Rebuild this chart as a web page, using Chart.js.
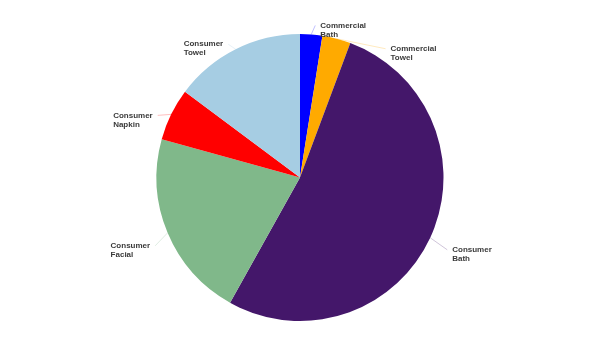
<!DOCTYPE html>
<html>
<head>
<meta charset="utf-8">
<script src="https://cdn.jsdelivr.net/npm/chart.js@4.4.0/dist/chart.umd.min.js"></script>
<style>
  html, body { margin: 0; padding: 0; background: #fff; }
  #wrap { width: 600px; height: 363px; }
</style>
</head>
<body>
<div id="wrap"><canvas id="pieChart" width="600" height="363"></canvas></div>
<script>
// Share of each segment (percent), clockwise from 12 o'clock
const categories = ['Commercial Bath', 'Commercial Towel', 'Consumer Bath', 'Consumer Facial', 'Consumer Napkin', 'Consumer Towel'];
const shares = [2.5, 3.2, 52.4, 21.2, 5.9, 14.8];
const sliceColors = ['#0000ff', '#ffaa00', '#44176a', '#80b88a', '#ff0000', '#a6cde3'];

// Label box (top-left) offsets from the slice's outer mid point
const labelOffsets = [[9, -13], [54, 6], [22, 8], [-57, 9], [-58, -3], [-52, -9]];

const outsideLabels = {
  id: 'outsideLabels',
  afterDatasetsDraw(chart) {
    const ctx = chart.ctx;
    const meta = chart.getDatasetMeta(0);
    ctx.save();
    ctx.font = 'bold 8px "Liberation Sans", Arial, sans-serif';
    ctx.textBaseline = 'top';
    ctx.textAlign = 'left';
    meta.data.forEach((arc, i) => {
      const mid = (arc.startAngle + arc.endAngle) / 2;
      const ex = arc.x + Math.cos(mid) * arc.outerRadius;
      const ey = arc.y + Math.sin(mid) * arc.outerRadius;
      const lines = categories[i].split(' ');
      const w = Math.max(...lines.map(l => ctx.measureText(l).width));
      const lx = ex + labelOffsets[i][0];
      const ly = ey + labelOffsets[i][1];
      const rightSide = labelOffsets[i][0] > 0;
      // leader line
      ctx.strokeStyle = hexToRgba(sliceColors[i], 0.25);
      ctx.lineWidth = 1;
      ctx.beginPath();
      ctx.moveTo(ex, ey);
      if (rightSide) ctx.lineTo(lx - 5, ly + 4);
      else ctx.lineTo(lx + w + 5, ly + 4);
      ctx.stroke();
      ctx.fillStyle = '#3a3a3a';
      lines.forEach((l, j) => ctx.fillText(l, lx, ly + j * 9));
    });
    ctx.restore();
  }
};

function hexToRgba(hex, alpha) {
  const r = parseInt(hex.slice(1, 3), 16);
  const g = parseInt(hex.slice(3, 5), 16);
  const b = parseInt(hex.slice(5, 7), 16);
  return `rgba(${r}, ${g}, ${b}, ${alpha})`;
}

new Chart(document.getElementById('pieChart'), {
  type: 'pie',
  data: {
    labels: categories,
    datasets: [{
      data: shares,
      backgroundColor: sliceColors,
      borderWidth: 0
    }]
  },
  options: {
    responsive: false,
    animation: false,
    layout: { padding: { top: 34, bottom: 42, left: 0, right: 0 } },
    plugins: {
      legend: { display: false },
      tooltip: { enabled: false }
    }
  },
  plugins: [outsideLabels]
});
</script>
</body>
</html>
